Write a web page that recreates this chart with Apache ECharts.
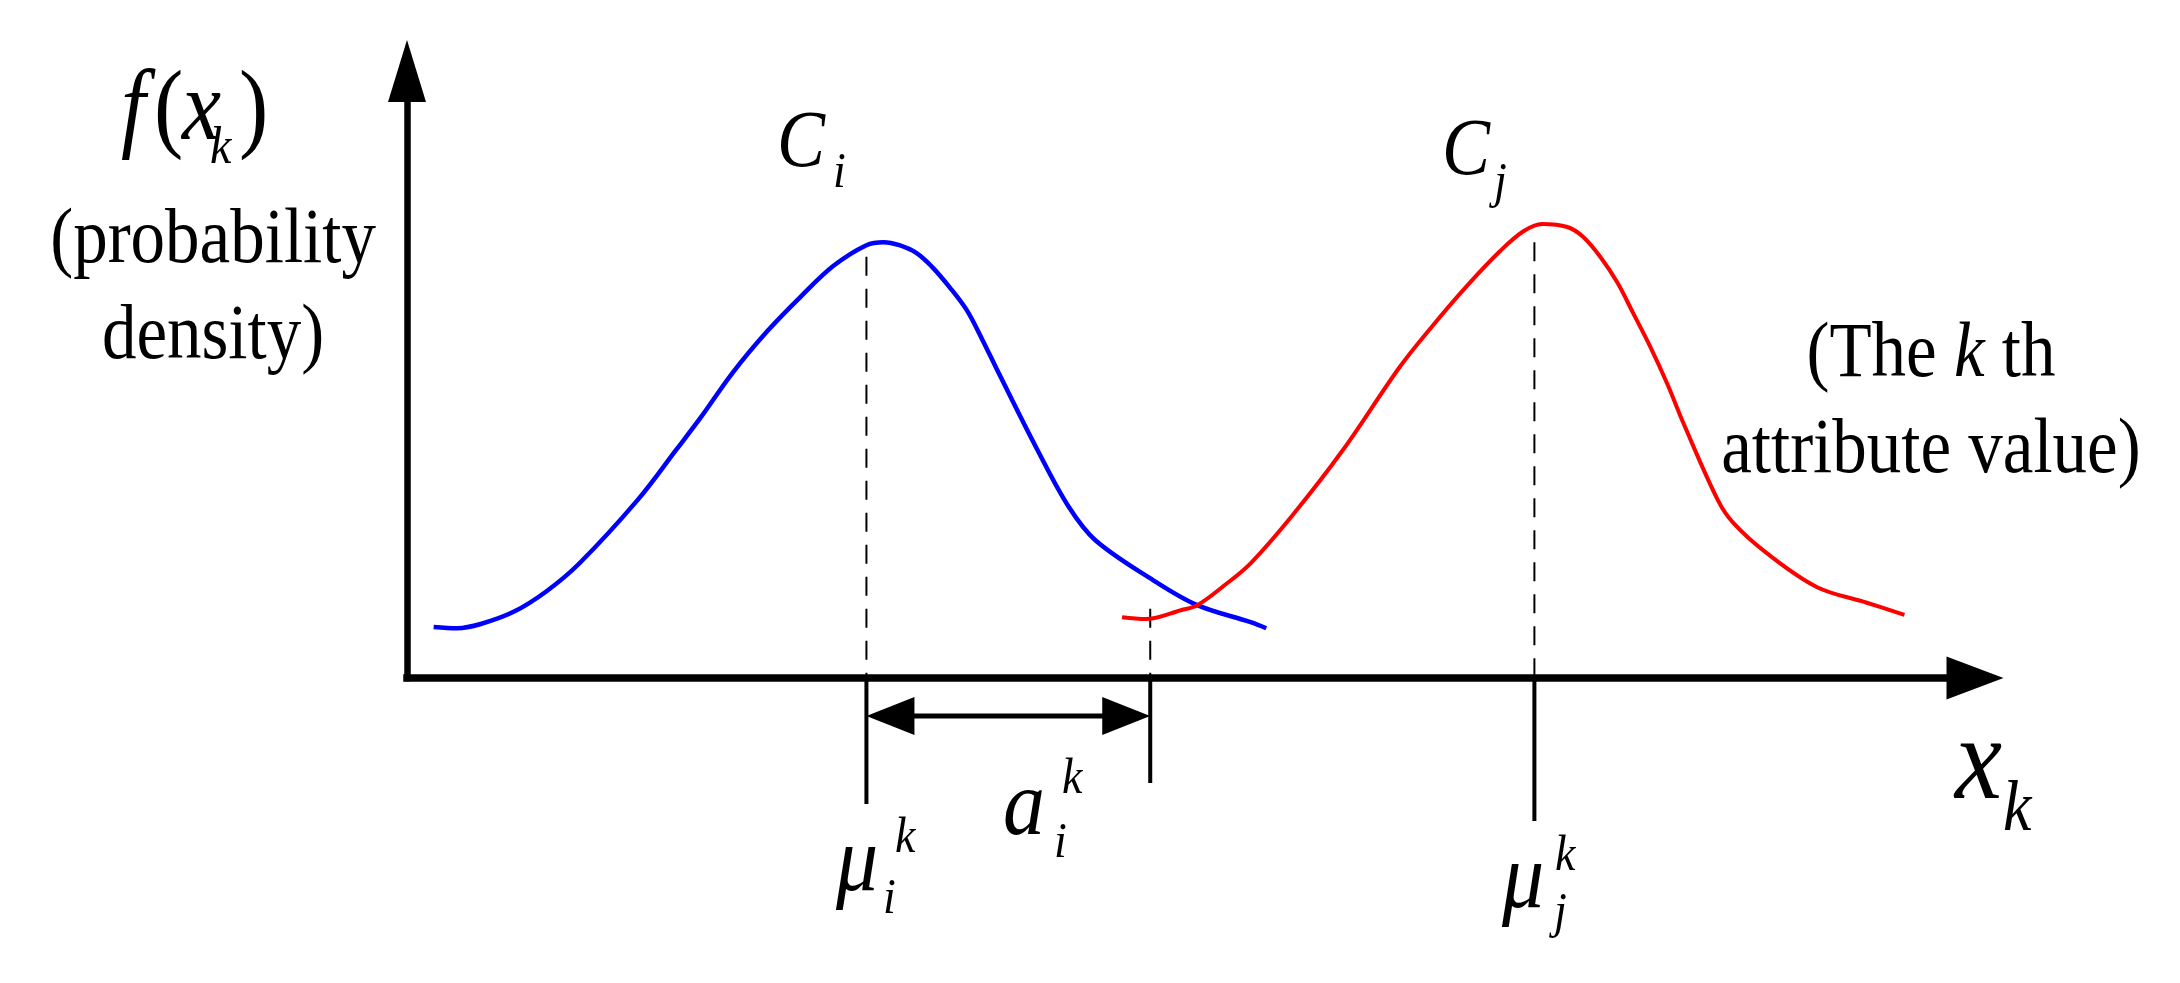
<!DOCTYPE html>
<html>
<head>
<meta charset="utf-8">
<script src="https://cdn.jsdelivr.net/npm/echarts@6/dist/echarts.min.js"></script>
<style>
html,body{margin:0;padding:0;background:#fff;}
#chart{width:2180px;height:983px;}
</style>
</head>
<body>
<div id="chart"></div>
<script>
// ---------- DATA (arbitrary units 0..100) ----------
// Cluster C_i density curve (blue)
const blueX = [1.7, 3.2, 4.7, 6.8, 8.9, 11.0, 14.7, 17.2, 18.7, 20.8, 23.0, 25.1, 27.2, 29.3, 30.4, 31.4, 32.5, 33.5, 34.6, 35.7, 36.7, 37.8, 40.2, 42.2, 43.9, 47.6, 50.4, 53.8, 54.8];
const blueY = [8.4, 8.2, 8.9, 10.9, 14.3, 18.9, 29.3, 37.7, 42.8, 50.4, 57.2, 62.8, 67.9, 71.3, 71.8, 71.3, 70.0, 67.7, 64.4, 60.6, 55.7, 49.9, 37.6, 28.2, 22.7, 16.1, 12.0, 9.2, 8.2];
// Cluster C_j density curve (red)
const redX = [45.6, 47.1, 49.4, 50.4, 52.0, 53.8, 56.5, 59.7, 63.3, 65.4, 67.6, 69.7, 71.2, 72.4, 74.0, 75.0, 76.1, 77.2, 78.2, 79.3, 80.4, 81.4, 83.6, 84.6, 86.7, 89.9, 93.1, 95.5];
const redY = [10.0, 9.7, 11.2, 12.0, 15.0, 18.9, 26.9, 37.6, 51.2, 58.0, 64.6, 70.3, 73.6, 74.8, 74.3, 72.7, 69.4, 65.1, 60.1, 54.5, 48.3, 42.0, 29.3, 25.5, 20.6, 15.0, 12.4, 10.4];
// Marker positions on the x axis: mu_i, end of a_i, mu_j
const markerX = [29.3, 47.4, 71.9];
// Height reached by each dashed guide line
const markerTop = [69.4, 11.4, 71.8];
// Text label anchors (data units)
const labelNames = ['yTitle', 'Ci', 'Cj', 'xNote', 'xk', 'mui', 'ai', 'muj'];
const labelAnchorX = [-12.37, 23.60, 66.01, 97.19, 98.72, 27.36, 38.01, 69.83];
const labelAnchorY = [88.80, 84.35, 83.03, 49.75, -19.77, -34.93, -25.70, -37.73];

// ---------- STYLE / LAYOUT ----------
const FAMILY = '"Liberation Serif"';
const S = 1.12;          // vertical stretch of the reference lettering
const MID = 0.2624;      // distance from canvas "middle" baseline to alphabetic baseline (em)
const tickLen = [126, 105, 143];
const spanOffset = 38;   // double arrow distance below the axis (px)

function fontOf(F, italic) {
  return (italic ? 'italic ' : '') + F + 'px ' + FAMILY;
}
function piece(x, baseY, t, F, italic, align) {
  return {
    type: 'text', x: x, y: baseY - MID * F * S, scaleY: S, silent: true,
    style: {text: t, font: fontOf(F, italic), fill: '#000', align: align || 'left', verticalAlign: 'middle'}
  };
}

// pieces: [text, fontSize, italic, dx, dy, align]
const labelPieces = {
  yTitle: [['f', 88, 1, -92, 0], ['(', 88, 0, -59, 0], ['x', 88, 1, -31, 0], ['k', 48, 1, -3, 24], [')', 88, 0, 26, 0],
           ['(probability', 69, 0, 0, 123, 'center'], ['density)', 69, 0, 0, 219, 'center']],
  Ci: [['C', 72, 1, 0, 0], ['i', 46, 1, 56, 21]],
  Cj: [['C', 72, 1, 0, 0], ['j', 46, 1, 52, 23]],
  xNote: [['attribute value)', 69, 0, 0, 96, 'center']],
  xk: [['x', 106, 1, 0, 0], ['k', 64, 1, 48, 32]],
  mui: [['\u03BC', 84, 1, 0, 0], ['k', 46, 1, 59, -38], ['i', 46, 1, 47, 23]],
  ai: [['a', 84, 1, 0, 0], ['k', 46, 1, 59, -41], ['i', 46, 1, 51, 23]],
  muj: [['\u03BC', 84, 1, 0, 0], ['k', 46, 1, 53, -37], ['j', 46, 1, 52, 20]]
};

const chart = echarts.init(document.getElementById('chart'), null, {renderer: 'canvas'});

const option = {
  animation: false,
  backgroundColor: '#ffffff',
  grid: {left: 407, top: 71, right: 205, bottom: 305, containLabel: false, outerBoundsMode: 'none'},
  xAxis: {
    type: 'value', min: 0, max: 100,
    axisLine: {show: true, onZero: false, symbol: ['none', 'triangle'], symbolSize: [43, 57],
      lineStyle: {color: '#000', width: 7.5, cap: 'square'}},
    axisTick: {show: false}, axisLabel: {show: false}, splitLine: {show: false}
  },
  yAxis: {
    type: 'value', min: 0, max: 100,
    axisLine: {show: true, onZero: false, symbol: ['none', 'triangle'], symbolSize: [38, 62],
      lineStyle: {color: '#000', width: 6.5, cap: 'square'}},
    axisTick: {show: false}, axisLabel: {show: false}, splitLine: {show: false}
  },
  series: [
    {
      name: 'C_i', type: 'line', silent: true, z: 3,
      data: blueX.map((x, i) => [x, blueY[i]]),
      smooth: 0.35, showSymbol: false, symbol: 'none',
      lineStyle: {color: '#0000ff', width: 4.5}
    },
    {
      name: 'C_j', type: 'line', silent: true, z: 3,
      data: redX.map((x, i) => [x, redY[i]]),
      smooth: 0.35, showSymbol: false, symbol: 'none',
      lineStyle: {color: '#ff0000', width: 4}
    },
    {
      name: 'guides', type: 'custom', silent: true, clip: false, z: 2,
      data: markerX.map((x, i) => [x, markerTop[i]]),
      renderItem: function (params, api) {
        const i = params.dataIndex;
        const x = api.value(0);
        const top = api.coord([x, api.value(1)]);
        const base = api.coord([x, 0]);
        const children = [
          {type: 'line', shape: {x1: top[0], y1: top[1], x2: base[0], y2: base[1]},
            style: {stroke: '#000', lineWidth: 2, lineDash: [19, 13]}},
          {type: 'line', shape: {x1: base[0], y1: base[1], x2: base[0], y2: base[1] + tickLen[i]},
            style: {stroke: '#000', lineWidth: 4}}
        ];
        if (i === 0) {
          const p0 = api.coord([markerX[0], 0]);
          const p1 = api.coord([markerX[1], 0]);
          const y = p0[1] + spanOffset;
          const L = 48, H = 19;
          children.push({type: 'line', shape: {x1: p0[0] + L - 2, y1: y, x2: p1[0] - L + 2, y2: y},
            style: {stroke: '#000', lineWidth: 5}});
          children.push({type: 'polygon', shape: {points: [[p0[0], y], [p0[0] + L, y - H], [p0[0] + L, y + H]]},
            style: {fill: '#000'}});
          children.push({type: 'polygon', shape: {points: [[p1[0], y], [p1[0] - L, y - H], [p1[0] - L, y + H]]},
            style: {fill: '#000'}});
        }
        return {type: 'group', children: children};
      }
    },
    {
      name: 'labels', type: 'custom', silent: true, clip: false, z: 4,
      data: labelAnchorX.map((x, i) => [x, labelAnchorY[i]]),
      renderItem: function (params, api) {
        const name = labelNames[params.dataIndex];
        const p = api.coord([api.value(0), api.value(1)]);
        const children = labelPieces[name].map(function (q) {
          return piece(p[0] + q[3], p[1] + q[4], q[0], q[1], q[2], q[5]);
        });
        if (name === 'xNote') {
          children.push({
            type: 'text', x: p[0], y: p[1] - MID * 69 * S, scaleY: S, silent: true,
            style: {
              text: '(The {it|k} th', font: fontOf(69, false), fill: '#000',
              align: 'center', verticalAlign: 'middle',
              rich: {it: {font: fontOf(69, true), fill: '#000'}}
            }
          });
        }
        return {type: 'group', children: children};
      }
    }
  ]
};
chart.setOption(option);
</script>
</body>
</html>
